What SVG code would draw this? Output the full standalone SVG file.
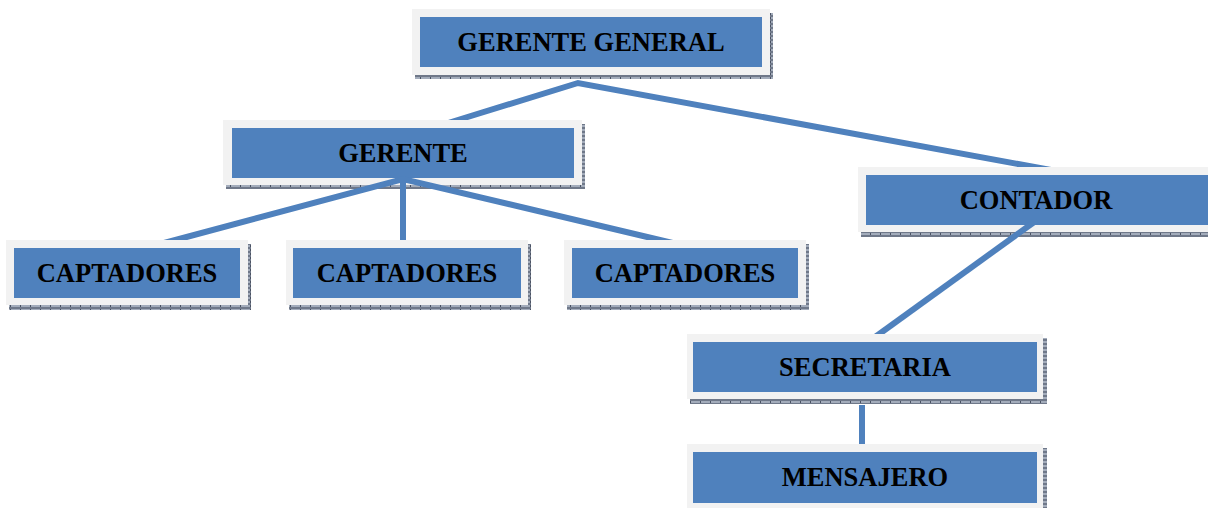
<svg xmlns="http://www.w3.org/2000/svg" width="1208" height="508" viewBox="0 0 1208 508">
<style>
.frame{fill:#f2f2f2}
.box{fill:#4f81bd}
.shadow{fill:url(#shp)}
.lbl{font-family:"Liberation Serif","Times New Roman",serif;font-weight:bold;font-size:26.5px;fill:#000;text-anchor:middle}
.conn{stroke:#4f81bd;stroke-width:6;fill:none;stroke-linejoin:miter}
</style>
<defs>
<pattern id="shp" width="10" height="4" patternUnits="userSpaceOnUse">
<rect width="10" height="4" fill="#a3acbb"/>
<rect x="0" y="0" width="1" height="4" fill="#4a5263"/>
<rect x="0" y="0" width="10" height="1" fill="#6f7889"/>
<rect x="0" y="3" width="10" height="1" fill="#6f7889"/>
</pattern>
<clipPath id="cc">
<path clip-rule="evenodd" d="M0 0H1208V508H0Z M223 120h359v55h-359Z M858 167h352v52h-352Z M6 240h242v70h-242Z M286 240h242v70h-242Z M564 240h242v70h-242Z M687 334h356v66h-356Z M687 444h356v66h-356Z"/>
</clipPath>
</defs>
<g id="gerente-general">
<rect class="shadow" x="415" y="13" width="358" height="66"/>
<rect class="frame" x="412" y="9" width="358" height="66"/>
<rect class="box" x="420" y="17" width="342" height="50"/>
<text class="lbl" x="591" y="51">GERENTE GENERAL</text>
</g>
<g id="gerente">
<rect class="shadow" x="226" y="124" width="359" height="65"/>
<rect class="frame" x="223" y="120" width="359" height="65"/>
<rect class="box" x="232" y="128" width="342" height="50"/>
<text class="lbl" x="403" y="162">GERENTE</text>
</g>
<g id="captadores-1">
<rect class="shadow" x="9" y="244" width="242" height="66"/>
<rect class="frame" x="6" y="240" width="242" height="65"/>
<rect class="box" x="14" y="248" width="226" height="50"/>
<text class="lbl" x="127" y="282">CAPTADORES</text>
</g>
<g id="captadores-2">
<rect class="shadow" x="289" y="244" width="242" height="66"/>
<rect class="frame" x="286" y="240" width="242" height="65"/>
<rect class="box" x="293" y="248" width="228" height="50"/>
<text class="lbl" x="407" y="282">CAPTADORES</text>
</g>
<g id="captadores-3">
<rect class="shadow" x="567" y="244" width="242" height="66"/>
<rect class="frame" x="564" y="240" width="242" height="65"/>
<rect class="box" x="572" y="248" width="226" height="50"/>
<text class="lbl" x="685" y="282">CAPTADORES</text>
</g>
<g id="contador">
<rect class="shadow" x="861" y="171" width="352" height="66"/>
<rect class="frame" x="858" y="167" width="352" height="65"/>
<rect class="box" x="866" y="175" width="342" height="50"/>
<text class="lbl" x="1036" y="209">CONTADOR</text>
</g>
<g id="secretaria">
<rect class="shadow" x="690" y="338" width="357" height="66"/>
<rect class="frame" x="687" y="334" width="356" height="65"/>
<rect class="box" x="693" y="342" width="344" height="50"/>
<text class="lbl" x="865" y="376">SECRETARIA</text>
</g>
<g id="mensajero">
<rect class="shadow" x="690" y="448" width="357" height="66"/>
<rect class="frame" x="687" y="444" width="356" height="66"/>
<rect class="box" x="693" y="452" width="344" height="51"/>
<text class="lbl" x="865" y="486">MENSAJERO</text>
</g>
<g id="connectors" clip-path="url(#cc)">
<polyline class="conn" points="432,128 578,83 1078,175"/>
<polyline class="conn" points="138,250 403,179 702,250"/>
<line class="conn" x1="403" y1="181" x2="403" y2="250"/>
<line class="conn" x1="1037" y1="220" x2="864" y2="345"/>
<line class="conn" x1="862" y1="405" x2="862" y2="450"/>
</g>
</svg>
